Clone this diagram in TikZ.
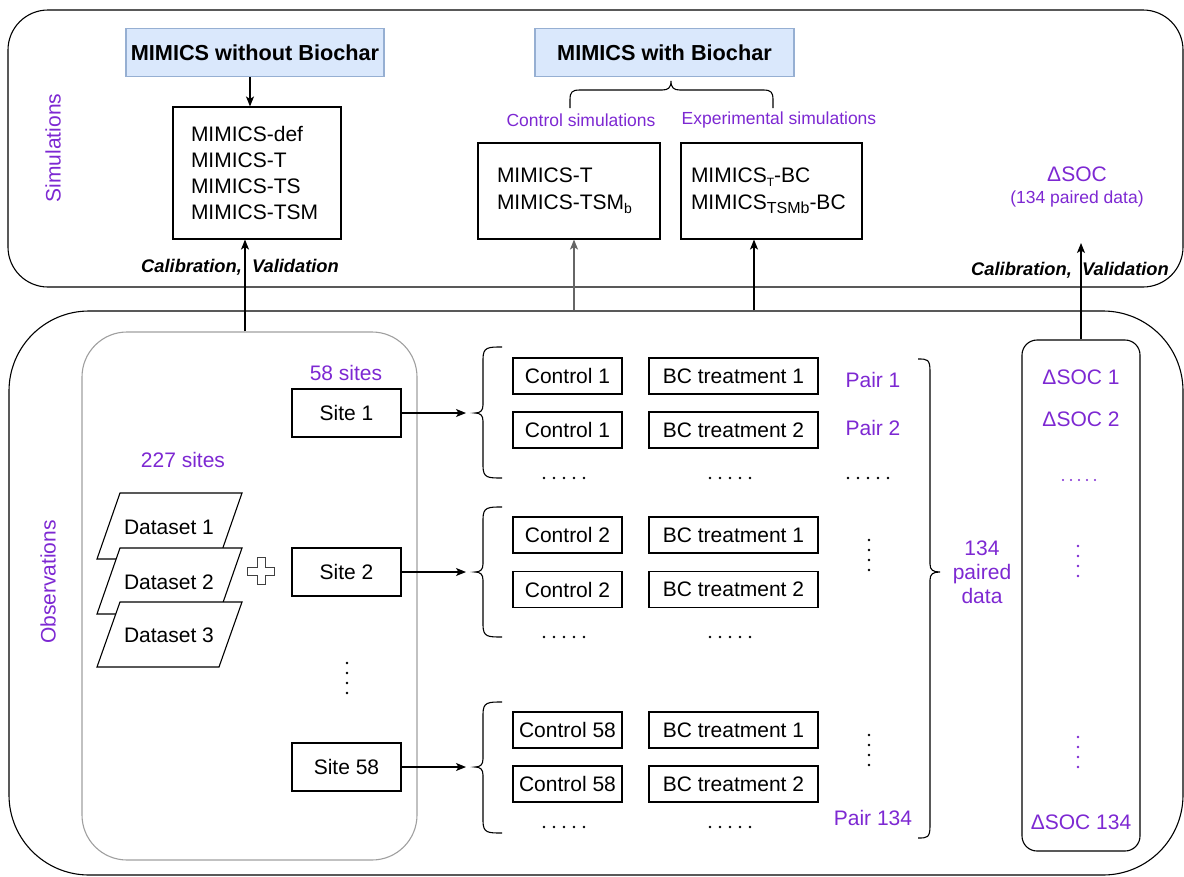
\documentclass[tikz,border=0pt]{standalone}
\usepackage{fontspec}
\setmainfont{Liberation Sans}
\usetikzlibrary{arrows.meta,calc}
\definecolor{purp}{RGB}{125,40,210}
\definecolor{hdfill}{RGB}{218,232,252}
\definecolor{hddraw}{RGB}{150,175,210}
\newcommand{\fmain}{\fontsize{21}{26}\selectfont}
\newcommand{\fsmall}{\fontsize{17.5}{21}\selectfont}
\newcommand{\mysub}[2]{\raisebox{-0.35ex}{\fontsize{#1}{#1}\selectfont #2}}
\newcommand{\braceL}[3]{%
  \draw[line width=1.1pt] (502,#1) .. controls (488,#1) and (483,#1) .. (483,#1+12) -- (483,#2-8)
    .. controls (483,#2-2) and (480,#2) .. (475,#2) .. controls (480,#2) and (483,#2+2) .. (483,#2+8)
    -- (483,#3-12) .. controls (483,#3) and (488,#3) .. (502,#3);}
\begin{document}
\begin{tikzpicture}[x=1pt,y=-1pt,
  font=\fmain,
  box/.style={draw,line width=1.1pt,inner sep=0pt,font=\fmain},
  head/.style={draw=hddraw,fill=hdfill,line width=1.1pt,minimum width=258pt,minimum height=48pt,inner sep=0pt,font=\fontsize{21.7}{26}\selectfont\bfseries},
  arr/.style={line width=1.1pt,-{Stealth[length=10pt,width=8pt,inset=2.5pt]}},
  ptxt/.style={text=purp,inner sep=0pt},
  cal/.style={font=\fontsize{18.3}{22}\selectfont\bfseries\itshape,inner sep=0pt},
  hdots/.pic={\foreach \i in {-2,...,2} \fill (\i*10,0) circle (1.4);},
  vdots/.pic={\foreach \i in {0,...,3} \fill (0,\i*10) circle (1.4);},
  pdots/.pic={\foreach \i in {-2,...,2} \fill[purp] (\i*8,0) circle (1.2);},
  pvdots/.pic={\foreach \i in {0,...,3} \fill[purp] (0,\i*10) circle (1.4);}]
\useasboundingbox (0,0) rectangle (1184,876);

% ---------- big panels
\node[draw,line width=1.1pt,rounded corners=40pt,minimum width=1175pt,minimum height=277pt,inner sep=0pt] (sim) at (595.5,148.5) {};
\node[draw,line width=1.1pt,rounded corners=80pt,minimum width=1174pt,minimum height=564pt,inner sep=0pt] (obs) at (596,593) {};
\node[ptxt,rotate=90] (simlab) at (53,148) {Simulations};
\node[ptxt,rotate=90] (obslab) at (48,582) {Observations};

% ---------- simulations panel
\node[head] (h1) at (255,52.5) {MIMICS without Biochar};
\node[head,minimum width=259pt] (h2) at (664.5,52.5) {MIMICS with Biochar};

\node[box,minimum height=132pt,text width=132pt,inner xsep=18pt,align=left] (def) at (257,173)
  {MIMICS-def\\MIMICS-T\\MIMICS-TS\\MIMICS-TSM};
\node[box,minimum height=96pt,text width=144pt,inner xsep=19pt,align=left,font=\fontsize{21}{27}\selectfont] (mt) at (569,191)
  {MIMICS-T\\MIMICS-TSM\mysub{14}{b}};
\node[box,minimum height=96pt,text width=161pt,inner xsep=10pt,align=left,font=\fontsize{21}{27}\selectfont] (mbc) at (771.5,191)
  {MIMICS\mysub{12}{T}-BC\\MIMICS\mysub{16}{TSMb}-BC};

\node[ptxt,font=\fsmall] (csim) at (581,120) {Control simulations};
\node[ptxt,font=\fsmall] (esim) at (779,120) {Experimental simulations};
\draw[line width=1.1pt] (570,108) -- (570,100) .. controls (570,92) and (572,90) .. (580,90) -- (662,90)
  .. controls (668,90) and (671,88) .. (671,81) .. controls (671,88) and (674,90) .. (680,90) -- (763,90)
  .. controls (771,90) and (773,92) .. (773,100) -- (773,108);

\node[ptxt] (dsoc) at (1077,174) {ΔSOC};
\node[ptxt,font=\fsmall] (dsocsub) at (1077,199) {(134 paired data)};

\node[cal] (cal1) at (240,267) {Calibration,\ \ Validation};
\node[cal] (cal2) at (1070,270) {Calibration,\ \ Validation};

% ---------- observations panel
\node[draw=gray!75,line width=1.1pt,rounded corners=45pt,minimum width=335pt,minimum height=528pt,inner sep=0pt] (inner) at (249.5,596) {};

\node[ptxt] (s58) at (346,373) {58 sites};
\node[ptxt] (s227) at (183,460) {227 sites};

\draw[line width=1.1pt,fill=white] (120,493) -- (242,493) -- (219,559) -- (97,559) -- cycle;
\node (d1) at (169,527) {Dataset 1};
\draw[line width=1.1pt,fill=white] (120,548) -- (242,548) -- (219,614) -- (97,614) -- cycle;
\node (d2) at (169,582) {Dataset 2};
\draw[line width=1.1pt,fill=white] (120,602) -- (242,602) -- (219,667) -- (97,667) -- cycle;
\node (d3) at (169,635) {Dataset 3};

\draw[line width=1pt,draw=black!75,fill=white] (257,557.5) -- (265,557.5) -- (265,567) -- (274.5,567) -- (274.5,575)
  -- (265,575) -- (265,584.5) -- (257,584.5) -- (257,575) -- (247.5,575) -- (247.5,567) -- (257,567) -- cycle;

\node[box,minimum width=109pt,minimum height=48pt] (s1) at (346.5,413) {Site 1};
\node[box,minimum width=109pt,minimum height=48pt] (s2) at (346.5,572) {Site 2};
\node[box,minimum width=109pt,minimum height=48pt] (s3) at (346.5,767) {Site 58};
\pic at (347,663) {vdots};

\coordinate (b1) at (475,413);
\coordinate (b2) at (475,572);
\coordinate (b3) at (475,767);
\braceL{347}{413}{478}
\braceL{507}{572}{637}
\braceL{702}{767}{833}
\draw[arr,shorten >=9pt] (s1.east) -- (b1);
\draw[arr,shorten >=9pt] (s2.east) -- (b2);
\draw[arr,shorten >=9pt] (s3.east) -- (b3);

\foreach \n/\y/\c/\t in {c1/376/1/1, c2/430/1/2, c3/535/2/1, c4/589.5/2/2, c5/730/58/1, c6/784/58/2}{
  \node[box,minimum width=109pt,minimum height=36pt] (\n) at (567.5,\y) {Control \c};
  \node[box,minimum width=169pt,minimum height=36pt] (t\n) at (733.5,\y) {BC treatment \t};
}
\pic at (564,478) {hdots};
\pic at (730,478) {hdots};
\pic at (868,478) {hdots};
\pic at (564,637) {hdots};
\pic at (730,637) {hdots};
\pic at (564,827) {hdots};
\pic at (730,827) {hdots};
\pic at (869,540) {vdots};
\pic at (869,735) {vdots};

\node[ptxt] (p1) at (873,380) {Pair 1};
\node[ptxt] (p2) at (873,428) {Pair 2};
\node[ptxt] (p134) at (873,818) {Pair 134};

\coordinate (rb) at (940,572);
\draw[line width=1.1pt] (918,359) .. controls (927,359) and (930,359) .. (930,371) -- (930,564)
  .. controls (930,570) and (933,572) .. (rb) .. controls (933,572) and (930,574) .. (930,580)
  -- (930,826) .. controls (930,838) and (927,838) .. (918,838);
\node[ptxt,align=center,font=\fontsize{21}{24}\selectfont] (pd) at (982,572) {134\\paired\\data};

\node[draw,line width=1.1pt,rounded corners=15pt,minimum width=118pt,minimum height=511pt,inner sep=0pt] (dbox) at (1081,595.5) {};
\node[ptxt] (ds1) at (1081,377) {ΔSOC 1};
\node[ptxt] (ds2) at (1081,419) {ΔSOC 2};
\node[ptxt] (ds134) at (1081,822) {ΔSOC 134};
\pic at (1079,480) {pdots};
\pic at (1078,546) {pvdots};
\pic at (1078,737) {pvdots};

% ---------- connectors between panels
\coordinate (ax1) at (250,0);
\coordinate (ax2) at (245,0);
\coordinate (ax3) at (574,0);
\coordinate (ax4) at (754,0);
\coordinate (dtip) at (1081,243);
\draw[arr] (h1.south -| ax1) -- (def.north -| ax1);
\draw[arr] (inner.north -| ax2) -- (def.south -| ax2);
\draw[arr,draw=black!60] (obs.north -| ax3) -- (mt.south -| ax3);
\draw[arr] (obs.north -| ax4) -- (mbc.south -| ax4);
\draw[arr] (dbox.north) -- (dtip);
\end{tikzpicture}
\end{document}
